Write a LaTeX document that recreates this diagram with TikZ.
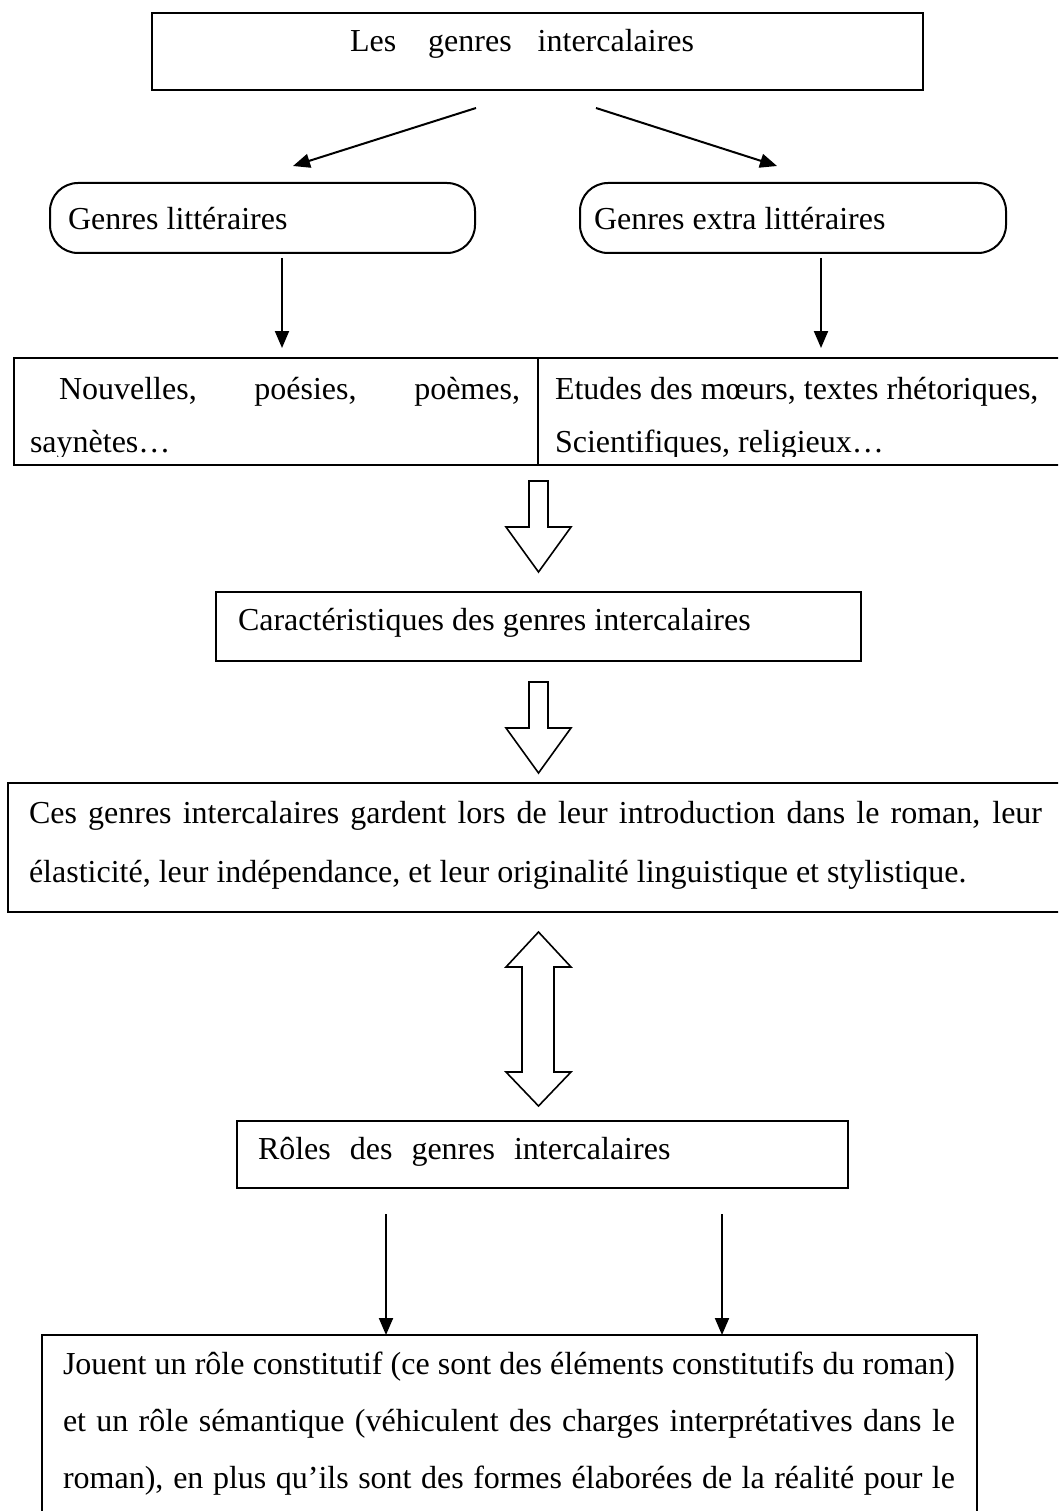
\documentclass[tikz,border=0pt]{standalone}
\usepackage{fontspec}
\setmainfont{Liberation Serif}
\usetikzlibrary{arrows.meta}
\begin{document}
\begin{tikzpicture}[x=1pt,y=-1pt,
  txt/.style={anchor=base west, inner sep=0pt, outer sep=0pt, font=\fontsize{32}{38}\selectfont},
  box/.style={draw, line width=2pt, inner sep=0pt, outer sep=0pt},
  rbox/.style={box, rounded corners=28pt},
  conn/.style={line width=2pt, -{Triangle[length=17pt,width=14pt]}},
  hollow/.style={draw, line width=1.6pt, fill=white, line join=miter}
]
\clip (0,0) rectangle (1058,1511);
\fill[white] (0,0) rectangle (1058,1511);

% boxes
\node[box, minimum width=771pt, minimum height=77pt] (top) at (537.5,51.5) {};
\node[rbox, minimum width=425pt, minimum height=70pt] (litt) at (262.5,218) {};
\node[rbox, minimum width=426pt, minimum height=70pt] (extra) at (793,218) {};
\node[box, minimum width=524pt, minimum height=107pt] (cellL) at (276,411.5) {};
\node[box, minimum width=532pt, minimum height=107pt] (cellR) at (804,411.5) {};
\node[box, minimum width=645pt, minimum height=69pt] (caract) at (538.5,626.5) {};
\node[box, minimum width=1062pt, minimum height=129pt] (big) at (539,847.5) {};
\node[box, minimum width=611pt, minimum height=67pt] (roles) at (542.5,1154.5) {};
\node[box, minimum width=935pt, minimum height=195pt] (bottom) at (509.5,1432.5) {};

% texts
\node[txt] (tTop) at (350,52) {Les\hspace{32pt}genres\hspace{26pt}intercalaires};
\node[txt] (tLitt) at (68,230) {Genres littéraires};
\node[txt] (tExtra) at (594,230) {Genres extra littéraires};
\begin{scope}
\clip (14,358) rectangle (1058,456);
\node[txt] (n1) at (59,399) {\makebox[461pt][s]{Nouvelles, poésies, poèmes,}};
\node[txt] (n2) at (30,452) {saynètes…};
\node[txt] (e1) at (555,399) {Etudes des mœurs, textes rhétoriques,};
\node[txt] (e2) at (555,452) {Scientifiques, religieux…};
\end{scope}
\node[txt] (tCar) at (238,630) {Caractéristiques des genres intercalaires};
\node[txt] (b1) at (29,823) {\makebox[1013pt][s]{Ces genres intercalaires gardent lors de leur introduction dans le roman, leur}};
\node[txt] (b2) at (29,882) {élasticité, leur indépendance, et leur originalité linguistique et stylistique.};
\node[txt] (tRoles) at (258,1159) {Rôles\hspace{19pt}des\hspace{19pt}genres\hspace{19pt}intercalaires};
\node[txt] (j1) at (63,1374) {\makebox[892pt][s]{Jouent un rôle constitutif (ce sont des éléments constitutifs du roman)}};
\node[txt] (j2) at (63,1431) {\makebox[892pt][s]{et un rôle sémantique (véhiculent des charges interprétatives dans le}};
\node[txt] (j3) at (63,1488) {\makebox[892pt][s]{roman), en plus qu’ils sont des formes élaborées de la réalité pour le}};

% connectors
\coordinate (aLs) at (476,108); \coordinate (aLe) at (293,166);
\coordinate (aRs) at (596,108); \coordinate (aRe) at (777,166);
\draw[conn] (aLs) -- (aLe);
\draw[conn] (aRs) -- (aRe);
\coordinate (dLs) at (282,258); \coordinate (dLe) at (282,348);
\coordinate (dRs) at (821,258); \coordinate (dRe) at (821,348);
\draw[conn] (dLs) -- (dLe);
\draw[conn] (dRs) -- (dRe);
\coordinate (rLs) at (386,1214); \coordinate (rRs) at (722,1214);
\draw[conn] (rLs) -- (rLs |- bottom.north);
\draw[conn] (rRs) -- (rRs |- bottom.north);

% hollow arrows
\draw[hollow] (529,481) -- (548,481) -- (548,527) -- (571,527) -- (538.5,572) -- (506,527) -- (529,527) -- cycle;
\draw[hollow] (529,682) -- (548,682) -- (548,728) -- (571,728) -- (538.5,773) -- (506,728) -- (529,728) -- cycle;
\draw[hollow] (538.5,932) -- (571,967) -- (554,967) -- (554,1072) -- (571,1072) -- (538.5,1106) -- (506,1072) -- (522,1072) -- (522,967) -- (506,967) -- cycle;
\end{tikzpicture}
\end{document}
